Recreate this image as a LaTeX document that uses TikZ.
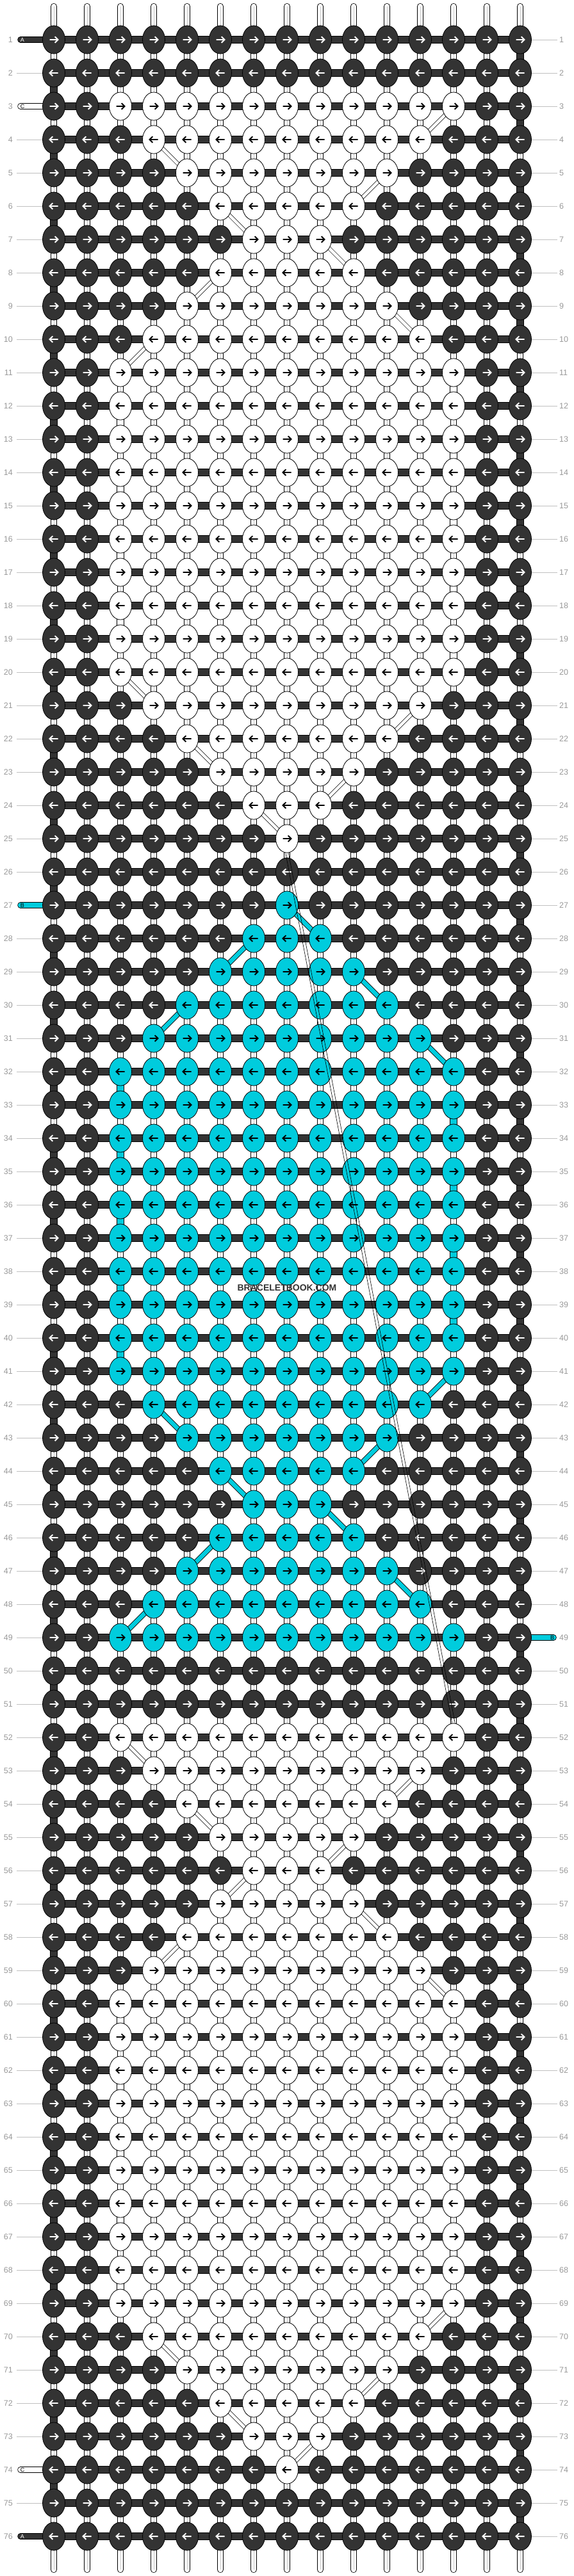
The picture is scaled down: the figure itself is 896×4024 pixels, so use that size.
\documentclass[tikz,border=0pt]{standalone}
\usepackage{fontspec}
\setmainfont{Liberation Sans}
\usetikzlibrary{shapes.geometric}
\definecolor{dk}{HTML}{333333}
\definecolor{cy}{HTML}{00CCDD}
\definecolor{lblgray}{HTML}{999999}
\definecolor{linegray}{HTML}{C0C0C0}
\pgfdeclarelayer{paper}
\pgfdeclarelayer{warps}
\pgfdeclarelayer{bars}
\pgfdeclarelayer{front}
\pgfsetlayers{paper,warps,bars,main,front}
\tikzset{
 knot/.style={ellipse, draw=black, line width=0.8, fill=#1, minimum width=35, minimum height=44, inner sep=0pt},
 arr/.style={line width=1.9, line join=miter},
 warp/.style={draw=black, line width=0.8, double=white, double distance=8.4, line cap=round},
 warpmid/.style={draw=black!22, line width=0.6},
 hbar/.style={draw=black, line width=0.8, double=dk, double distance=9.6},
 turnA/.style={draw=black, line width=0.8, double=dk, double distance=9.6},
 turnW/.style={draw=black, line width=0.8, double=white, double distance=9.6},
 turnB/.style={draw=black, line width=0.8, double=cy, double distance=9.6},
 diagW/.style={draw=black, line width=0.7, double=white, double distance=4.6},
 diagB/.style={draw=black, line width=0.8, double=cy, double distance=6.6},
 carry/.style={draw=black, line width=0.6},
 stub/.style={draw=black, line width=0.8, double=#1, double distance=8, line cap=round},
 rowline/.style={draw=linegray, line width=1},
 lbl/.style={text=lblgray, font=\fontsize{12.5}{14}\selectfont, inner sep=0pt},
 stublbl/.style={font=\fontsize{9}{10}\selectfont, inner sep=0pt},
}
\begin{document}
\begin{tikzpicture}[x=1pt,y=-1pt]
\begin{pgfonlayer}{paper}
\fill[white] (0,0) rectangle (896,4024);
\end{pgfonlayer}
\useasboundingbox (0,0) rectangle (896,4024);

% ---------------- knots ----------------
\foreach \r/\lo/\hi/\kc in {
 1/99/0/white, 2/99/0/white, 3/3/13/white, 4/4/12/white, 5/5/11/white,
 6/6/10/white, 7/7/9/white, 8/6/10/white, 9/5/11/white, 10/4/12/white,
 11/3/13/white, 12/3/13/white, 13/3/13/white, 14/3/13/white, 15/3/13/white,
 16/3/13/white, 17/3/13/white, 18/3/13/white, 19/3/13/white, 20/3/13/white,
 21/4/12/white, 22/5/11/white, 23/6/10/white, 24/7/9/white, 25/8/8/white,
 26/99/0/white, 27/8/8/cy, 28/7/9/cy, 29/6/10/cy, 30/5/11/cy,
 31/4/12/cy, 32/3/13/cy, 33/3/13/cy, 34/3/13/cy, 35/3/13/cy,
 36/3/13/cy, 37/3/13/cy, 38/3/13/cy, 39/3/13/cy, 40/3/13/cy,
 41/3/13/cy, 42/4/12/cy, 43/5/11/cy, 44/6/10/cy, 45/7/9/cy,
 46/6/10/cy, 47/5/11/cy, 48/4/12/cy, 49/3/13/cy, 50/99/0/white,
 51/99/0/white, 52/3/13/white, 53/4/12/white, 54/5/11/white, 55/6/10/white,
 56/7/9/white, 57/6/10/white, 58/5/11/white, 59/4/12/white, 60/3/13/white,
 61/3/13/white, 62/3/13/white, 63/3/13/white, 64/3/13/white, 65/3/13/white,
 66/3/13/white, 67/3/13/white, 68/3/13/white, 69/3/13/white, 70/4/12/white,
 71/5/11/white, 72/6/10/white, 73/7/9/white, 74/8/8/white, 75/99/0/white,
 76/99/0/white}{
 \foreach \c in {1,...,15}{
  \pgfmathsetmacro\xx{84+52*(\c-1)}
  \pgfmathsetmacro\yy{62+52*(\r-1)}
  \def\kf{dk}\def\ac{white}
  \ifnum\c<\lo\relax\else\ifnum\c>\hi\relax\else\def\kf{\kc}\def\ac{black}\fi\fi
  \ifodd\r\relax\def\dd{1}\else\def\dd{-1}\fi
  \node[knot=\kf] (k-\r-\c) at (\xx,\yy) {};
  \draw[arr,draw=\ac] ({\xx-6.5*\dd},\yy) -- ({\xx+6.5*\dd},\yy)
     ({\xx+1.6*\dd},{\yy-4.8}) -- ({\xx+6.5*\dd},\yy) -- ({\xx+1.6*\dd},{\yy+4.8});
 }
}

% ---------------- vertical warp strings ----------------
\begin{pgfonlayer}{warps}
\foreach \c in {1,...,15}{
 \pgfmathsetmacro\xx{84+52*(\c-1)}
 \coordinate (t-\c) at (\xx,10);
 \coordinate (b-\c) at (\xx,4014);
 \draw[warp] (t-\c) -- (k-1-\c.center);
 \draw[warpmid] (t-\c) -- (k-1-\c.center);
 \draw[warp] (k-76-\c.center) -- (b-\c);
 \draw[warpmid] (k-76-\c.center) -- (b-\c);
 \foreach \r in {1,...,75}{
  \pgfmathtruncatemacro\rn{\r+1}
  \draw[warp] (k-\r-\c.center) -- (k-\rn-\c.center);
  \draw[warpmid] (k-\r-\c.center) -- (k-\rn-\c.center);
 }
}
\end{pgfonlayer}

% ---------------- bars, turns, diagonals, stubs ----------------
\begin{pgfonlayer}{bars}
\foreach \r in {1,...,76}{
 \foreach \c in {1,...,14}{
  \pgfmathtruncatemacro\cn{\c+1}
  \draw[hbar] (k-\r-\c.center) -- (k-\r-\cn.center);
 }
}
\foreach \r in {1,3,...,75}{
 \pgfmathtruncatemacro\rn{\r+1}
 \draw[turnA] (k-\r-15.center) -- (k-\rn-15.center);
}
\foreach \r in {2,4,...,74}{
 \pgfmathtruncatemacro\rn{\r+1}
 \draw[turnA] (k-\r-1.center) -- (k-\rn-1.center);
}
\foreach \r/\c in {11/13,12/3,13/13,14/3,15/13,16/3,17/13,18/3,19/13,
                   60/3,61/13,62/3,63/13,64/3,65/13,66/3,67/13,68/3}{
 \pgfmathtruncatemacro\rn{\r+1}
 \draw[turnW] (k-\r-\c.center) -- (k-\rn-\c.center);
}
\foreach \r/\c in {32/3,33/13,34/3,35/13,36/3,37/13,38/3,39/13,40/3}{
 \pgfmathtruncatemacro\rn{\r+1}
 \draw[turnB] (k-\r-\c.center) -- (k-\rn-\c.center);
}
\foreach \ra/\ca/\rb/\cb in {3/13/4/12, 4/4/5/5, 5/11/6/10, 6/6/7/7, 7/9/8/10,
  8/6/9/5, 9/11/10/12, 10/4/11/3, 20/3/21/4, 21/12/22/11, 22/5/23/6,
  23/10/24/9, 24/7/25/8, 52/3/53/4, 53/12/54/11, 54/5/55/6, 55/10/56/9,
  56/7/57/6, 57/10/58/11, 58/5/59/4, 59/12/60/13, 69/13/70/12, 70/4/71/5,
  71/11/72/10, 72/6/73/7, 73/9/74/8}{
 \draw[diagW] (k-\ra-\ca.center) -- (k-\rb-\cb.center);
}
\foreach \ra/\ca/\rb/\cb in {27/8/28/9, 28/7/29/6, 29/10/30/11, 30/5/31/4,
  31/12/32/13, 41/13/42/12, 42/4/43/5, 43/11/44/10, 44/6/45/7, 45/9/46/10,
  46/6/47/5, 47/11/48/12, 48/4/49/3}{
 \draw[diagB] (k-\ra-\ca.center) -- (k-\rb-\cb.center);
}
% string ends
\coordinate (sa1) at (32,62);
\coordinate (sc3) at (32,166);
\coordinate (sb27) at (32,1414);
\coordinate (sc74) at (32,3858);
\coordinate (sa76) at (32,3962);
\coordinate (sb49) at (864,2558);
\draw[stub=dk] (sa1) -- (k-1-1.center);
\draw[stub=white] (sc3) -- (k-3-1.center);
\draw[stub=cy] (sb27) -- (k-27-1.center);
\draw[stub=white] (sc74) -- (k-74-1.center);
\draw[stub=dk] (sa76) -- (k-76-1.center);
\draw[stub=cy] (k-49-15.center) -- (sb49);
\end{pgfonlayer}

% ---------------- front: carried string, letters, labels ----------------
\begin{pgfonlayer}{front}
\draw[carry] ([xshift=-2.3pt]k-25-8.south) -- ([xshift=-2.3pt]k-52-13.north);
\draw[carry] ([xshift=2.3pt]k-25-8.south) -- ([xshift=2.3pt]k-52-13.north);
\node[stublbl,text=white] (la1) at (35,62) {A};
\node[stublbl,text=black] (lc3) at (35,166) {C};
\node[stublbl,text=black] (lb27) at (35,1414) {B};
\node[stublbl,text=black] (lc74) at (35,3858) {C};
\node[stublbl,text=white] (la76) at (35,3962) {A};
\node[stublbl,text=black] (lb49) at (862,2558) {B};
\node[font=\bfseries\fontsize{14}{16}\selectfont, text=dk, inner sep=0pt] (wm) at (448,2012) {BRACELETBOOK.COM};
\end{pgfonlayer}

\foreach \r in {1,...,76}{
 \pgfmathsetmacro\yy{62+52*(\r-1)}
 \node[lbl,anchor=east] (nl-\r) at (20,\yy) {\r};
 \node[lbl,anchor=west] (nr-\r) at (873,\yy) {\r};
 \def\ls{1}
 \ifnum\r=1 \def\ls{0}\fi
 \ifnum\r=3 \def\ls{0}\fi
 \ifnum\r=27 \def\ls{0}\fi
 \ifnum\r=74 \def\ls{0}\fi
 \ifnum\r=76 \def\ls{0}\fi
 \ifnum\ls=1
  \coordinate (ll-\r) at (26,\yy);
  \draw[rowline] (ll-\r) -- (k-\r-1.west);
 \fi
 \ifnum\r=49 \else
  \coordinate (rl-\r) at (870,\yy);
  \draw[rowline] (k-\r-15.east) -- (rl-\r);
 \fi
}
\end{tikzpicture}
\end{document}
